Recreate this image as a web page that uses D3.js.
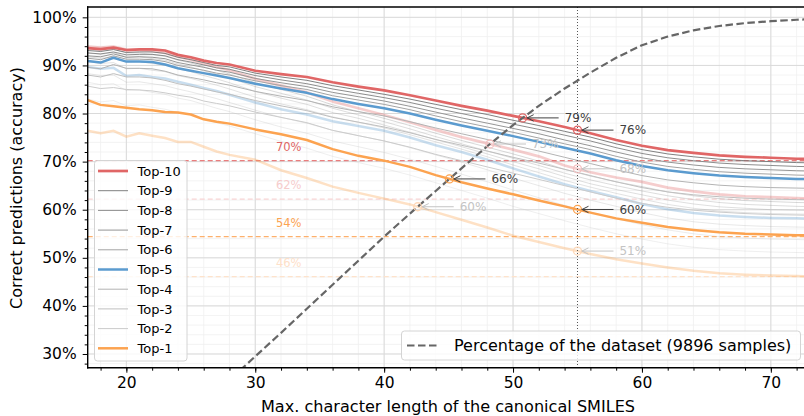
<!DOCTYPE html>
<html>
<head>
<meta charset="utf-8">
<script src="https://cdn.jsdelivr.net/npm/d3@7/dist/d3.min.js"></script>
<style>
  body { margin: 0; background: #fff; }
  svg { display: block; font-family: "DejaVu Sans", sans-serif; }
</style>
</head>
<body>
<svg id="chart" width="804" height="416"></svg>
<script>
// max canonical SMILES length (x) shared by every series
const lengths = [17,18,19,20,21,22,23,24,25,26,27,28,30,32,34,36,38,40,42,44,46,48,50,52,54,56,58,60,62,64,66,68,70,72,74]

// model A (strong lines), top-k accuracy in %
const top10 = [93.6,93.4,93.7,93.2,93.35,93.35,93.1,92.2,91.7,91.0,90.5,90.2,88.9,88.2,87.6,86.5,85.6,84.8,83.8,82.7,81.6,80.6,79.5,78.4,77.2,75.9,74.5,73.3,72.4,71.8,71.3,71.0,70.8,70.6,70.5]
const top9 = [93.1,92.9,93.3,92.7,92.8,92.8,92.5,91.7,91.2,90.6,90.0,89.7,88.4,87.6,86.9,85.8,84.9,84.0,83.0,81.9,80.8,79.8,78.6,77.5,76.3,75.1,73.7,72.5,71.6,71.0,70.5,70.2,70.0,69.8,69.7]
const top8 = [92.6,92.4,92.8,92.2,92.3,92.3,92.0,91.2,90.7,90.1,89.5,89.2,87.9,87.0,86.2,85.1,84.2,83.3,82.3,81.1,80.0,78.9,77.8,76.7,75.5,74.3,72.9,71.7,70.8,70.2,69.7,69.4,69.2,69.0,68.9]
const top7 = [92.0,91.8,92.4,91.7,91.8,91.7,91.4,90.6,90.1,89.6,89.0,88.6,87.3,86.4,85.6,84.4,83.5,82.6,81.5,80.3,79.1,78.0,76.9,75.8,74.5,73.3,72.0,70.8,69.9,69.3,68.8,68.5,68.3,68.1,68.0]
const top6 = [91.5,91.2,92.0,91.3,91.3,91.2,90.8,90.0,89.5,89.0,88.4,88.0,86.8,85.8,85.0,83.7,82.8,81.9,80.8,79.5,78.3,77.2,76.1,74.9,73.7,72.5,71.1,69.9,69.0,68.4,67.9,67.6,67.4,67.2,67.1]
const top5 = [90.9,90.6,91.6,90.8,90.8,90.7,90.2,89.4,88.9,88.4,87.9,87.4,86.2,85.2,84.3,83.0,82.0,81.1,80.0,78.7,77.5,76.4,75.3,74.1,72.9,71.7,70.3,69.1,68.2,67.6,67.1,66.8,66.6,66.4,66.3]
const top4 = [89.6,89.3,90.2,89.4,89.4,89.3,88.8,88.0,87.5,87.0,86.4,85.9,84.6,83.6,82.7,81.4,80.4,79.5,78.3,77.0,75.8,74.6,73.4,72.2,70.9,69.6,68.3,67.1,66.2,65.6,65.1,64.8,64.6,64.5,64.4]
const top3 = [88.0,87.6,88.3,87.6,87.6,87.4,86.9,86.2,85.7,85.1,84.5,84.0,82.7,81.6,80.6,79.2,78.2,77.2,76.0,74.6,73.4,72.2,70.9,69.7,68.4,67.1,65.8,64.6,63.7,63.1,62.7,62.4,62.2,62.1,62.0]
const top2 = [85.7,85.2,85.4,85.0,84.9,84.7,84.3,83.8,83.4,82.6,82.1,81.6,80.3,79.2,78.1,76.5,75.4,74.3,73.0,71.5,70.2,68.9,67.6,66.3,65.0,63.7,62.4,61.3,60.5,59.9,59.5,59.2,59.0,58.9,58.8]
const top1 = [82.8,81.8,81.5,81.2,80.9,80.7,80.3,80.2,79.8,78.8,78.3,77.9,76.7,75.7,74.5,72.6,71.2,70.2,68.9,67.2,65.7,64.4,63.2,61.9,60.7,59.4,58.2,57.3,56.4,55.8,55.3,55.0,54.85,54.7,54.6]

// model B (faded lines), top-k accuracy in %
const fadedTop10 = [93.9,93.7,93.9,93.3,93.2,93.0,92.6,91.8,91.2,90.4,89.7,89.0,87.2,85.8,84.4,82.5,81.1,79.7,78.2,76.6,75.1,73.8,72.5,71.1,69.2,67.8,66.7,65.8,64.6,63.8,63.2,62.8,62.6,62.4,62.3]
const fadedTop9 = [93.3,93.1,93.4,92.6,92.6,92.3,91.9,91.1,90.5,89.7,89.0,88.2,86.4,85.0,83.6,81.8,80.4,79.0,77.5,75.9,74.4,73.0,71.6,70.1,68.4,67.0,65.8,64.8,63.7,62.9,62.3,61.9,61.7,61.5,61.4]
const fadedTop8 = [92.6,92.3,92.7,91.7,91.8,91.4,91.1,90.3,89.7,88.9,88.2,87.4,85.6,84.2,82.8,81.1,79.7,78.3,76.8,75.2,73.7,72.2,70.7,69.2,67.6,66.2,65.0,63.9,62.9,62.1,61.5,61.1,60.9,60.7,60.6]
const fadedTop7 = [91.8,91.5,91.7,90.7,90.8,90.4,90.1,89.3,88.7,87.9,87.2,86.4,84.6,83.2,81.9,80.2,79.0,77.6,76.1,74.6,73.1,71.6,70.0,68.5,66.9,65.4,64.2,63.1,62.0,61.2,60.6,60.3,60.0,59.9,59.8]
const fadedTop6 = [90.8,90.4,90.6,89.3,89.4,89.0,88.7,87.9,87.3,86.6,85.9,85.1,83.4,82.0,80.8,79.3,78.2,77.0,75.6,74.1,72.6,71.0,69.3,67.7,66.1,64.7,63.4,62.2,61.1,60.3,59.7,59.4,59.2,59.1,59.0]
const fadedTop5 = [89.7,89.3,89.5,87.8,88.0,87.6,87.3,86.6,86.0,85.3,84.7,83.9,82.3,80.9,79.8,78.4,77.4,76.4,75.0,73.4,72.0,70.4,68.6,66.9,65.3,63.9,62.6,61.2,60.1,59.3,58.8,58.5,58.3,58.2,58.1]
const fadedTop4 = [88.3,87.9,88.0,86.5,86.6,86.2,85.8,85.1,84.5,83.8,83.1,82.3,80.7,79.2,78.0,76.5,75.4,74.3,72.9,71.4,69.9,68.3,66.6,65.0,63.4,62.0,60.7,59.4,58.3,57.5,57.0,56.7,56.5,56.4,56.3]
const fadedTop3 = [86.5,86.0,86.2,84.8,84.9,84.4,84.0,83.2,82.7,81.9,81.1,80.4,78.7,77.2,75.9,74.3,73.1,71.9,70.5,69.0,67.4,65.8,64.1,62.5,60.9,59.5,58.1,56.9,55.8,55.0,54.4,54.1,53.9,53.8,53.7]
const fadedTop2 = [83.0,82.4,82.7,81.6,81.8,81.3,80.9,80.2,79.8,78.9,78.1,77.4,75.8,74.2,72.8,71.1,69.8,68.6,67.2,65.6,64.0,62.4,60.7,59.2,57.7,56.3,55.0,53.9,52.9,52.2,51.7,51.4,51.2,51.1,51.0]
const fadedTop1 = [76.4,75.9,76.4,75.2,75.9,75.4,74.9,74.1,74.1,73.1,72.1,71.4,70.4,68.2,66.6,64.8,63.5,62.3,61.1,59.5,57.9,56.3,54.6,53.3,52.0,50.8,49.7,48.8,48.0,47.3,46.8,46.5,46.3,46.2,46.1]

// share of the dataset covered (in %)
const datasetShare = [4.5,5.5,6.8,8.3,10.0,11.8,13.6,15.6,17.7,19.9,22.1,24.6,29.5,34.4,39.4,44.4,49.4,54.4,59.2,63.9,68.6,73.2,77.6,81.6,85.2,88.5,91.6,94.2,96.0,97.3,98.2,98.8,99.2,99.5,99.7]

const legendLabels = ['Top-10','Top-9','Top-8','Top-7','Top-6','Top-5','Top-4','Top-3','Top-2','Top-1']
const yTickLabels = ['30%','40%','50%','60%','70%','80%','90%','100%']
const xTickLabels = ['20','30','40','50','60','70']

// full-dataset accuracy levels
const levelValues = [70.2, 62.2, 54.4, 46.1]
const levelLabels = ['70%', '62%', '54%', '46%']

const cutLength = 55
const noteLabels = ['79%', '76%', '66%', '60%', '73%', '68%', '60%', '51%']

const strong = [top10, top9, top8, top7, top6, top5, top4, top3, top2, top1]
const faded = [fadedTop10, fadedTop9, fadedTop8, fadedTop7, fadedTop6, fadedTop5, fadedTop4, fadedTop3, fadedTop2, fadedTop1]
const colors = ['#e06666', '#737373', '#808080', '#959595', '#a3a3a3', '#5b9bcf', '#b3b3b3', '#bfbfbf', '#cbcbcb', '#fca350']
const widths = [2.7, 0.9, 0.9, 1, 1, 2.5, 1, 1, 1, 2.5]

const svg = d3.select('#chart')
const x = d3.scaleLinear().domain([17, 73]).range([87.7, 809.5])
const y = d3.scaleLinear().domain([27.15, 102.15]).range([367.7, 7])

svg.append('defs').append('clipPath').attr('id', 'clip')
  .append('rect').attr('x', 87.7).attr('y', 7).attr('width', 722).attr('height', 360.7)

const plot = svg.append('g').attr('clip-path', 'url(#clip)')

// grid
const xMinor = d3.range(18, 73, 2)
const yMinor = d3.range(28, 102, 2)
plot.selectAll('.gxm').data(xMinor).enter().append('line')
  .attr('x1', d => x(d)).attr('x2', d => x(d)).attr('y1', 7).attr('y2', 368)
  .attr('stroke', '#f0f0f0').attr('stroke-width', 0.8)
plot.selectAll('.gym').data(yMinor).enter().append('line')
  .attr('x1', 87.7).attr('x2', 810).attr('y1', d => y(d)).attr('y2', d => y(d))
  .attr('stroke', '#f0f0f0').attr('stroke-width', 0.8)
plot.selectAll('.gx').data(xTickLabels.map(Number)).enter().append('line')
  .attr('x1', d => x(d)).attr('x2', d => x(d)).attr('y1', 7).attr('y2', 368)
  .attr('stroke', '#dadada').attr('stroke-width', 1)
plot.selectAll('.gy').data(yTickLabels.map(s => parseFloat(s))).enter().append('line')
  .attr('x1', 87.7).attr('x2', 810).attr('y1', d => y(d)).attr('y2', d => y(d))
  .attr('stroke', '#dadada').attr('stroke-width', 1)

// level lines
const levelColors = ['#ea7d7d', '#f8d3d3', '#fdb06c', '#fee3cc']
plot.selectAll('.lvl').data(levelValues).enter().append('line')
  .attr('x1', 87.7).attr('x2', 810).attr('y1', d => y(d)).attr('y2', d => y(d))
  .attr('stroke', (d, i) => levelColors[i]).attr('stroke-width', 1.3).attr('stroke-dasharray', '5,3')

const line = d3.line().x((d, i) => x(lengths[i])).y(d => y(d))

// faded model, then strong model (thick ones last)
const order = [1, 2, 3, 4, 6, 7, 8, 9, 5, 0]
order.forEach(k => {
  plot.append('path').datum(faded[k]).attr('d', line)
    .attr('fill', 'none').attr('stroke', colors[k]).attr('stroke-width', widths[k])
    .attr('stroke-opacity', k === 0 || k === 5 || k === 9 ? 0.33 : 0.3)
})
order.forEach(k => {
  plot.append('path').datum(strong[k]).attr('d', line)
    .attr('fill', 'none').attr('stroke', colors[k]).attr('stroke-width', widths[k])
    .attr('stroke-linejoin', 'round')
})

plot.append('path').datum(datasetShare).attr('d', line)
  .attr('fill', 'none').attr('stroke', '#666').attr('stroke-width', 2.2).attr('stroke-dasharray', '7.5,3.5')

plot.append('line').attr('x1', x(cutLength)).attr('x2', x(cutLength)).attr('y1', 7).attr('y2', 368)
  .attr('stroke', '#555').attr('stroke-width', 1).attr('stroke-dasharray', '1,2')

// level labels
svg.selectAll('.lvlt').data(levelValues).enter().append('text')
  .attr('x', x(31.6)).attr('y', d => y(d) - 10)
  .attr('font-size', 11.5).attr('fill', (d, i) => ['#e06666', '#f6cccc', '#fca350', '#fee0c8'][i])
  .text((d, i) => levelLabels[i])

// annotations
function valueAt (s, xv) {
  for (let i = 0; i < lengths.length - 1; i++) {
    if (xv >= lengths[i] && xv <= lengths[i + 1]) {
      const t = (xv - lengths[i]) / (lengths[i + 1] - lengths[i])
      return s[i] + t * (s[i + 1] - s[i])
    }
  }
}
function crossing (s) {
  for (let i = 0; i < lengths.length - 1; i++) {
    const d0 = s[i] - datasetShare[i]
    const d1 = s[i + 1] - datasetShare[i + 1]
    if (d0 > 0 && d1 <= 0) {
      const t = d0 / (d0 - d1)
      return [lengths[i] + t * (lengths[i + 1] - lengths[i]), s[i] + t * (s[i + 1] - s[i])]
    }
  }
}
const notes = [
  [top10, 'cross', '#e06666', false], [top10, cutLength, '#e06666', false],
  [top1, 'cross', '#fca350', false], [top1, cutLength, '#fca350', false],
  [fadedTop10, 'cross', '#f3c2c2', true], [fadedTop10, cutLength, '#f3c2c2', true],
  [fadedTop1, 'cross', '#fed9b9', true], [fadedTop1, cutLength, '#fed9b9', true]
]
const notesG = svg.append('g')
notes.forEach((n, i) => {
  const p = n[1] === 'cross' ? crossing(n[0]) : [n[1], valueAt(n[0], n[1])]
  const px = x(p[0])
  const py = y(p[1])
  const tc = n[3] ? '#c4c4c4' : '#404040'
  notesG.append('circle').attr('cx', px).attr('cy', py).attr('r', 4)
    .attr('fill', 'none').attr('stroke', n[2]).attr('stroke-width', 1.3)
  notesG.append('line').attr('x1', px + 4).attr('x2', px + 36).attr('y1', py).attr('y2', py)
    .attr('stroke', tc).attr('stroke-width', 1)
  notesG.append('path').attr('d', `M${px + 11},${py - 3.2}L${px + 4.5},${py}L${px + 11},${py + 3.2}`)
    .attr('fill', 'none').attr('stroke', tc).attr('stroke-width', 1)
  notesG.append('text').attr('x', px + 42).attr('y', py).attr('dy', '0.36em')
    .attr('font-size', 12).attr('fill', tc).text(noteLabels[i])
})

// axes
const xAxis = svg.append('g').attr('transform', 'translate(0,367.7)')
  .call(d3.axisBottom(x).tickValues(xTickLabels.map(Number)).tickFormat((d, i) => xTickLabels[i])
    .tickSize(5).tickPadding(4).tickSizeOuter(0))
xAxis.select('.domain').remove()
xAxis.selectAll('text').attr('font-size', 15.5).attr('fill', '#000').attr('font-family', '"DejaVu Sans", sans-serif')
svg.append('g').attr('transform', 'translate(0,367.7)')
  .call(d3.axisBottom(x).tickValues(xMinor).tickFormat('').tickSize(3).tickSizeOuter(0))
  .select('.domain').remove()

const yAxis = svg.append('g').attr('transform', 'translate(87.7,0)')
  .call(d3.axisLeft(y).tickValues(yTickLabels.map(s => parseFloat(s))).tickFormat((d, i) => yTickLabels[i])
    .tickSize(5).tickPadding(6).tickSizeOuter(0))
yAxis.select('.domain').remove()
yAxis.selectAll('text').attr('font-size', 15.5).attr('fill', '#000').attr('font-family', '"DejaVu Sans", sans-serif')
svg.append('g').attr('transform', 'translate(87.7,0)')
  .call(d3.axisLeft(y).tickValues(yMinor.filter(v => v % 10 !== 0)).tickFormat('').tickSize(3).tickSizeOuter(0))
  .select('.domain').remove()

// spines
svg.append('line').attr('x1', 87.7).attr('x2', 87.7).attr('y1', 6.3).attr('y2', 368.4).attr('stroke', '#000').attr('stroke-width', 1.4)
svg.append('line').attr('x1', 87).attr('x2', 810).attr('y1', 367.7).attr('y2', 367.7).attr('stroke', '#000').attr('stroke-width', 1.4)
svg.append('line').attr('x1', 87).attr('x2', 810).attr('y1', 7).attr('y2', 7).attr('stroke', '#000').attr('stroke-width', 1.6)

svg.append('text').attr('x', 448).attr('y', 412).attr('text-anchor', 'middle').attr('font-size', 16.1)
  .text('Max. character length of the canonical SMILES')
svg.append('text').attr('transform', 'translate(21.5,188) rotate(-90)').attr('text-anchor', 'middle').attr('font-size', 16)
  .text('Correct predictions (accuracy)')

// legend: top-k
const lg = svg.append('g')
lg.append('rect').attr('x', 94.5).attr('y', 160.5).attr('width', 92.5).attr('height', 200.5).attr('rx', 3)
  .attr('fill', '#fff').attr('fill-opacity', 0.8).attr('stroke', '#d4d4d4')
legendLabels.forEach((lab, i) => {
  const yy = 171 + i * 19.7
  lg.append('line').attr('x1', 98).attr('x2', 128).attr('y1', yy).attr('y2', yy)
    .attr('stroke', colors[i]).attr('stroke-width', widths[i])
  lg.append('text').attr('x', 137.5).attr('y', yy).attr('dy', '0.36em').attr('font-size', 13).text(lab)
})

// legend: dataset share
const lg2 = svg.append('g')
lg2.append('rect').attr('x', 401.5).attr('y', 331).attr('width', 399).attr('height', 29).attr('rx', 3)
  .attr('fill', '#fff').attr('fill-opacity', 0.8).attr('stroke', '#d4d4d4')
lg2.append('line').attr('x1', 407).attr('x2', 440).attr('y1', 345.5).attr('y2', 345.5)
  .attr('stroke', '#666').attr('stroke-width', 2.2).attr('stroke-dasharray', '7.5,3.5')
lg2.append('text').attr('x', 454).attr('y', 345.5).attr('dy', '0.36em').attr('font-size', 16)
  .text('Percentage of the dataset (9896 samples)')
</script>
</body>
</html>
